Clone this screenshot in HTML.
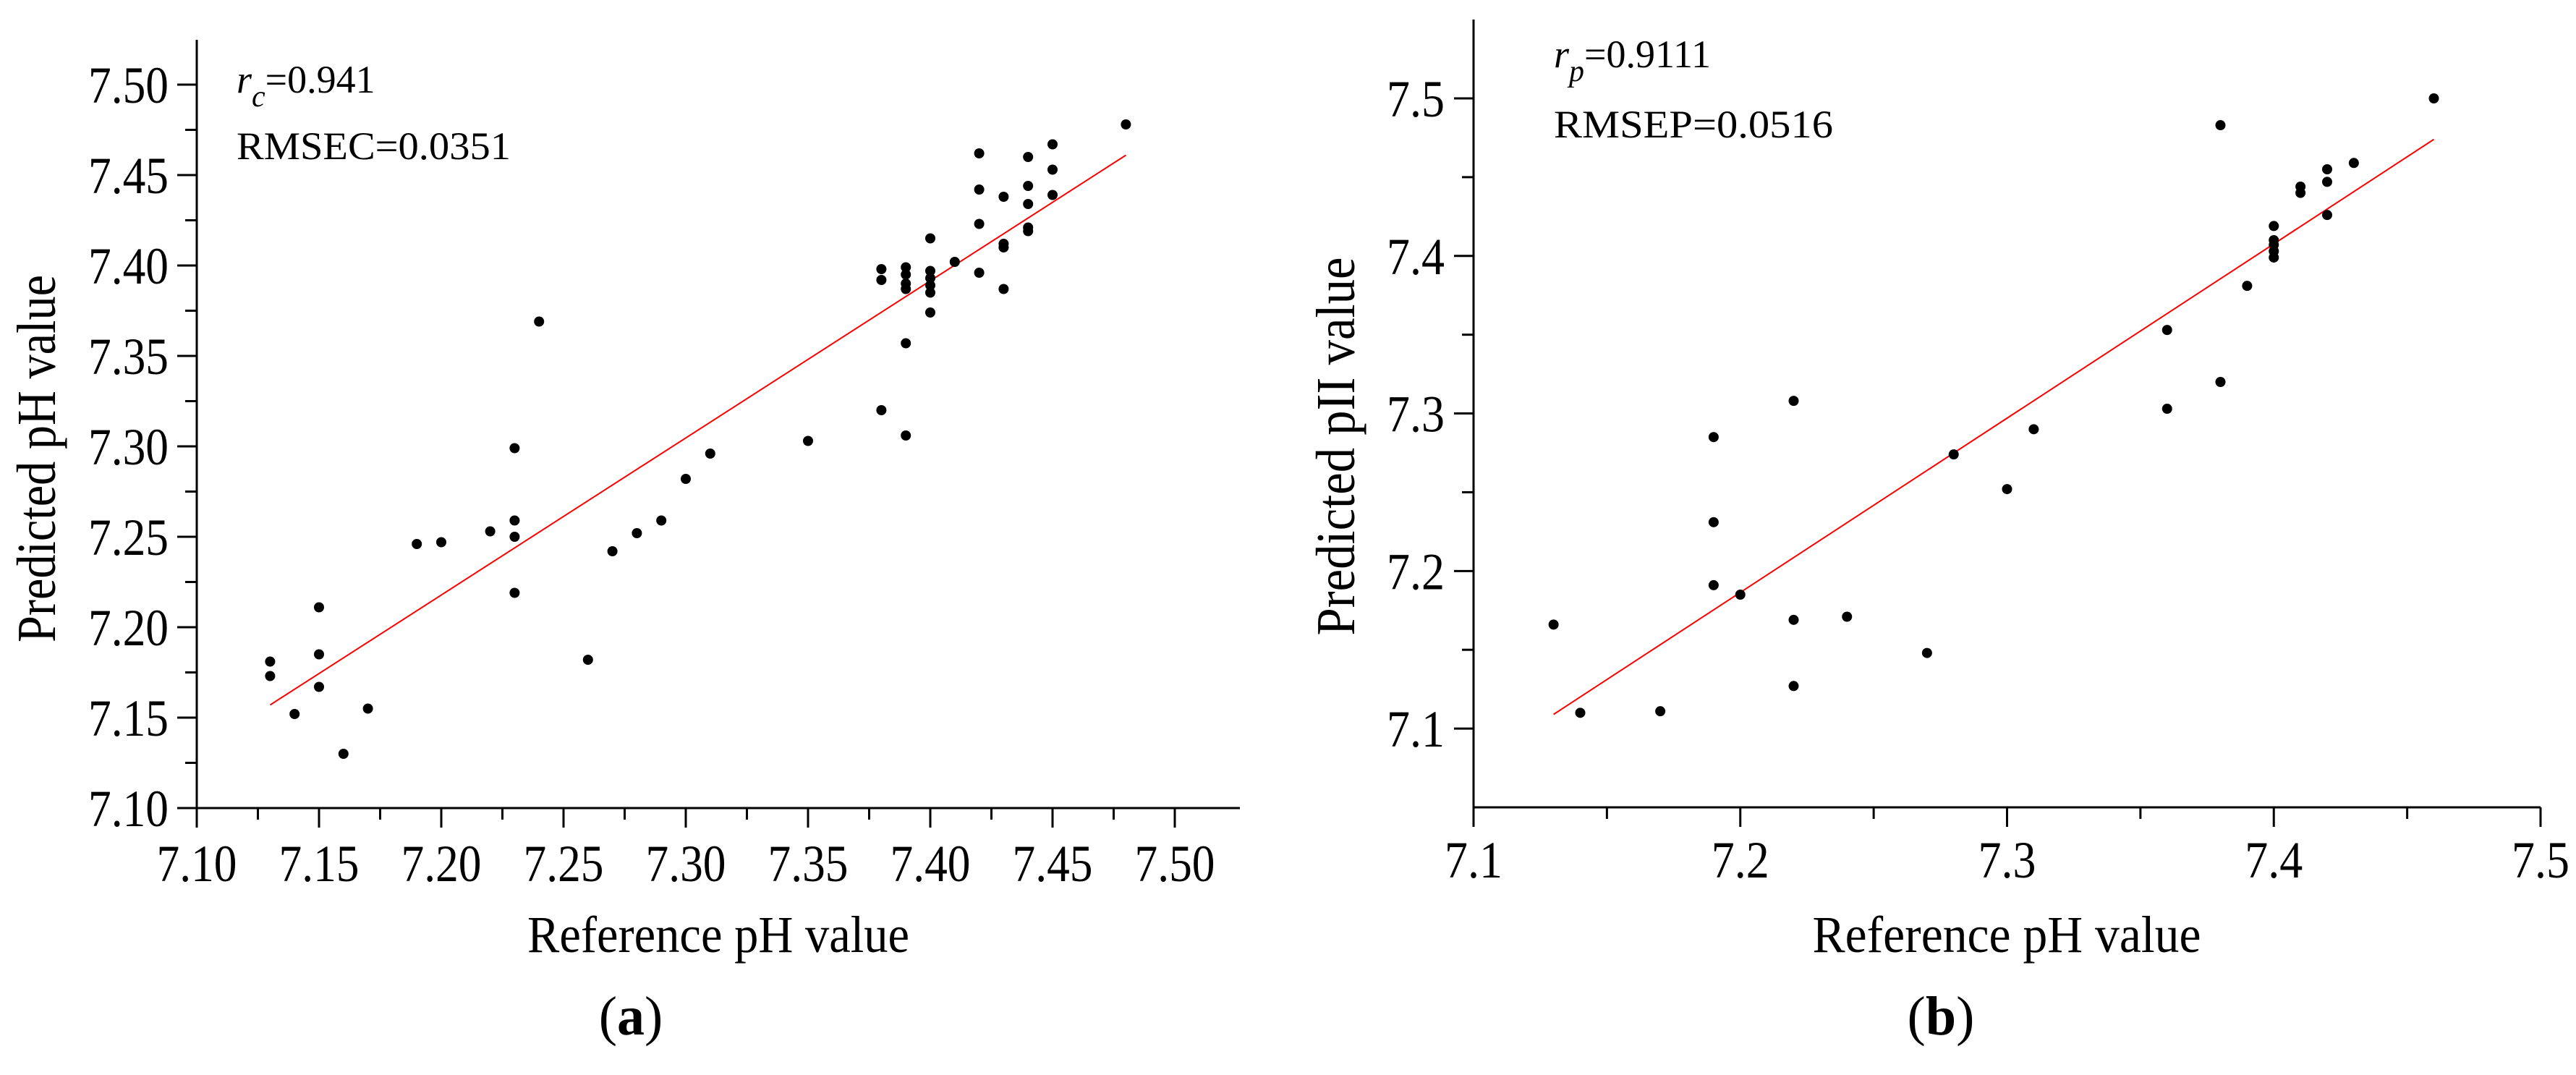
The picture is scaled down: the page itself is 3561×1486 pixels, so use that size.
<!DOCTYPE html>
<html><head><meta charset="utf-8"><style>
html,body{margin:0;padding:0;background:#fff;}
svg{display:block;font-family:"Liberation Serif",serif;}
</style></head><body>
<svg id="fig" width="3561" height="1486" viewBox="0 0 3561 1486" xmlns="http://www.w3.org/2000/svg">
<rect width="3561" height="1486" fill="#fff"/>
<g id="pa"></g>
<g id="pb"></g>
</svg>
<script>
// Panel (a) calibration data
const aRefX = [7.13,7.13,7.14,7.15,7.15,7.15,7.16,7.17,7.19,7.20,7.22,7.23,7.23,7.23,7.23,7.24,7.26,7.27,7.28,7.29,7.30,7.31,7.35,7.38,7.38,7.38,7.39,7.39,7.39,7.39,7.39,7.39,7.40,7.40,7.40,7.40,7.40,7.40,7.41,7.42,7.42,7.42,7.42,7.43,7.43,7.43,7.43,7.44,7.44,7.44,7.44,7.44,7.45,7.45,7.45,7.48];
const aPredY = [7.181,7.173,7.152,7.211,7.185,7.167,7.130,7.155,7.246,7.247,7.253,7.299,7.259,7.250,7.219,7.369,7.182,7.242,7.252,7.259,7.282,7.296,7.303,7.320,7.398,7.392,7.306,7.357,7.399,7.395,7.390,7.387,7.415,7.397,7.393,7.389,7.385,7.374,7.402,7.462,7.442,7.423,7.396,7.438,7.412,7.410,7.387,7.460,7.444,7.434,7.421,7.419,7.467,7.453,7.439,7.478];
const aFitX = [7.13,7.48];
const aFitY = [7.157,7.461];
const aTicks = ["7.10","7.15","7.20","7.25","7.30","7.35","7.40","7.45","7.50"];
// Panel (b) prediction data
const bRefX = [7.13,7.14,7.17,7.19,7.19,7.19,7.20,7.22,7.22,7.22,7.24,7.27,7.28,7.30,7.31,7.36,7.36,7.38,7.38,7.39,7.40,7.40,7.40,7.40,7.40,7.41,7.41,7.42,7.42,7.42,7.43,7.46];
const bPredY = [7.166,7.110,7.111,7.285,7.231,7.191,7.185,7.308,7.169,7.127,7.171,7.148,7.274,7.252,7.290,7.353,7.303,7.483,7.320,7.381,7.419,7.410,7.407,7.403,7.399,7.444,7.440,7.455,7.447,7.426,7.459,7.500];
const bFitX = [7.13,7.46];
const bFitY = [7.109,7.474];
const bTicks = ["7.1","7.2","7.3","7.4","7.5"];

const NS="http://www.w3.org/2000/svg";
function mk(parent,tag,attrs,text){const e=document.createElementNS(NS,tag);for(const k in attrs)e.setAttribute(k,attrs[k]);if(text!==undefined)e.textContent=text;parent.appendChild(e);return e;}

function panel(g,c){
  const sx=v=>c.x0+(v-c.xmin)/(c.xmax-c.xmin)*(c.x1-c.x0);
  const sy=v=>c.y0-(v-c.ymin)/(c.ymax-c.ymin)*(c.y0-c.y1);
  // axes
  let ax=mk(g,'line',{x1:c.x0,y1:c.y0,x2:c.xEnd,y2:c.y0,stroke:'#000','stroke-width':3});
  
  
  let ay=mk(g,'line',{x1:c.x0,y1:c.y0,x2:c.x0,y2:c.yTop,stroke:'#000','stroke-width':3});
  
  
  // x ticks
  c.xMajor.forEach((v,i)=>{
    const x=sx(v);
    const t=mk(g,'line',{x1:x,y1:c.y0,x2:x,y2:c.y0+27,stroke:'#000','stroke-width':3});
    
    
    const l=mk(g,'text',{x:x,y:c.xLabY,'font-size':72,'text-anchor':'middle',textLength:c.tlen,lengthAdjust:'spacingAndGlyphs'},c.xLabels[i]);
    
    
    if(i<c.xMajor.length-1){
      const m=mk(g,'line',{x1:sx(v+c.xStep/2),y1:c.y0,x2:sx(v+c.xStep/2),y2:c.y0+16,stroke:'#000','stroke-width':3});
      
      
    }
  });
  // y ticks
  c.yMajor.forEach((v,i)=>{
    const y=sy(v);
    const t=mk(g,'line',{x1:c.x0-27,y1:y,x2:c.x0,y2:y,stroke:'#000','stroke-width':3});
    
    
    const l=mk(g,'text',{x:c.yLabX,y:y+25,'font-size':72,'text-anchor':'end',textLength:c.tlen,lengthAdjust:'spacingAndGlyphs'},c.yLabels[i]);
    
    
  });
  c.yMinor.forEach(v=>{
    const y=sy(v);
    const m=mk(g,'line',{x1:c.x0-16,y1:y,x2:c.x0,y2:y,stroke:'#000','stroke-width':3});
    
    
  });
  // fit line
  const f=mk(g,'line',{x1:sx(c.fx[0]),y1:sy(c.fy[0]),x2:sx(c.fx[1]),y2:sy(c.fy[1]),stroke:'#f00','stroke-width':2});
  
  
  // points
  c.px.forEach((v,i)=>{
    const p=mk(g,'circle',{cx:sx(v),cy:sy(c.py[i]),r:7,fill:'#000'});
    
    
  });
}

panel(document.getElementById('pa'),{
  x0:272,x1:1624,xmin:7.10,xmax:7.50,xEnd:1714,
  y0:1117,y1:117,ymin:7.10,ymax:7.50,yTop:55,
  xMajor:[7.10,7.15,7.20,7.25,7.30,7.35,7.40,7.45,7.50],xStep:0.05,xLabels:aTicks,xLabY:1218,
  yMajor:[7.10,7.15,7.20,7.25,7.30,7.35,7.40,7.45,7.50],yMinor:[7.125,7.175,7.225,7.275,7.325,7.375,7.425,7.475,7.525].filter(v=>v<=7.52),yLabels:aTicks,yLabX:233,tlen:111,
  px:aRefX,py:aPredY,fx:aFitX,fy:aFitY
});
panel(document.getElementById('pb'),{
  x0:2037,x1:3512,xmin:7.1,xmax:7.5,xEnd:3512,
  y0:1116,y1:136,ymin:7.05,ymax:7.5,yTop:27,
  xMajor:[7.1,7.2,7.3,7.4,7.5],xStep:0.1,xLabels:bTicks,xLabY:1213,
  yMajor:[7.1,7.2,7.3,7.4,7.5],yMinor:[7.15,7.25,7.35,7.45],yLabels:bTicks,yLabX:1997,tlen:80,
  px:bRefX,py:bPredY,fx:bFitX,fy:bFitY
});
</script>
<svg style="position:absolute;left:0;top:0" width="3561" height="1486">
<g font-family="Liberation Serif, serif" fill="#000">
<text transform="translate(76,634) rotate(-90)" font-size="76" text-anchor="middle" textLength="508" lengthAdjust="spacingAndGlyphs">Predicted pH value</text>
<text x="993" y="1316" font-size="72" text-anchor="middle" textLength="528" lengthAdjust="spacingAndGlyphs">Reference pH value</text>
<text x="327" y="128" font-size="54"><tspan font-style="italic">r</tspan><tspan font-style="italic" font-size="42" dy="19">c</tspan><tspan dy="-19">=0.941</tspan></text>
<text x="327" y="220" font-size="54" textLength="379" lengthAdjust="spacingAndGlyphs">RMSEC=0.0351</text>
<text x="872" y="1430" font-size="76" text-anchor="middle">(<tspan font-weight="bold">a</tspan>)</text>
<text transform="translate(1872,617) rotate(-90)" font-size="76" text-anchor="middle" textLength="523" lengthAdjust="spacingAndGlyphs">Predicted pII value</text>
<text x="2774" y="1316" font-size="72" text-anchor="middle" textLength="537" lengthAdjust="spacingAndGlyphs">Reference pH value</text>
<text x="2148" y="93" font-size="54"><tspan font-style="italic">r</tspan><tspan font-style="italic" font-size="42" dy="19">p</tspan><tspan dy="-19">=0.9111</tspan></text>
<text x="2148" y="190" font-size="54" textLength="386" lengthAdjust="spacingAndGlyphs">RMSEP=0.0516</text>
<text x="2683" y="1430" font-size="76" text-anchor="middle">(<tspan font-weight="bold">b</tspan>)</text>
</g>
</svg>
</body></html>
